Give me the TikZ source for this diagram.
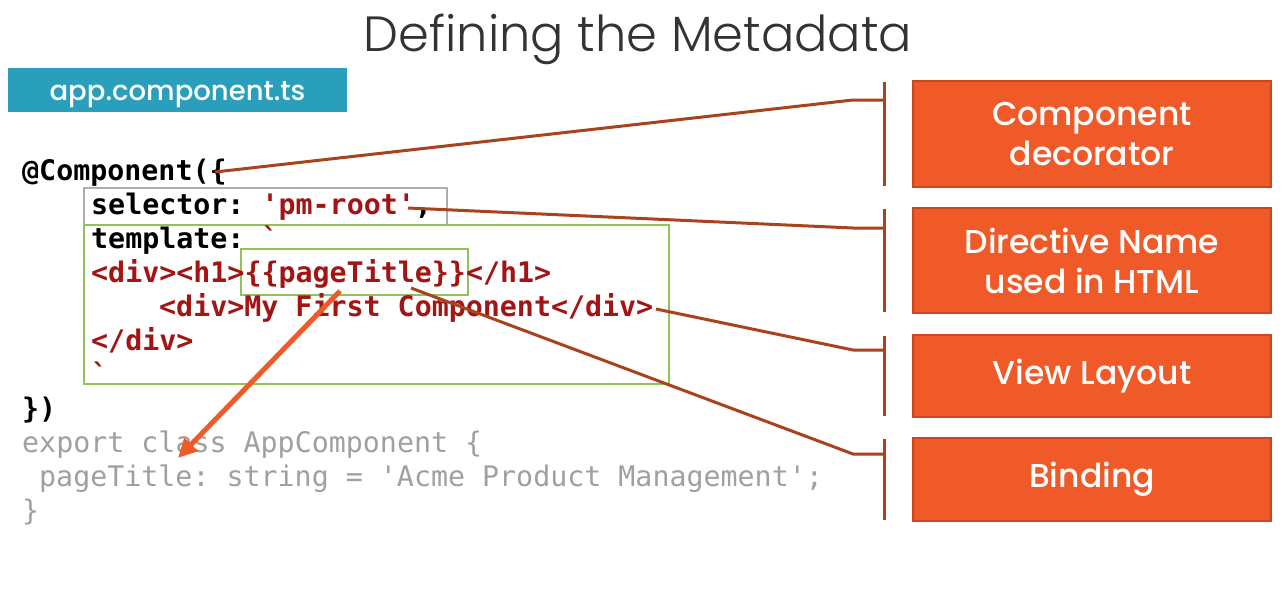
\documentclass[tikz,border=0pt]{standalone}
\usepackage{fontspec}
\usetikzlibrary{arrows.meta}
\setmainfont{Poppins}
\newfontfamily\codefont{DejaVu Sans Mono}
\newfontfamily\titlefont{Poppins Light}
\newfontfamily\labelfont{Poppins Medium}
\definecolor{teal}{HTML}{2A9FBC}
\definecolor{orangebox}{HTML}{F05A28}
\definecolor{orangeedge}{HTML}{C9471F}
\definecolor{brownline}{HTML}{A8431E}
\definecolor{codered}{HTML}{A31515}
\definecolor{codegray}{HTML}{A0A0A0}
\definecolor{framegray}{HTML}{ADADAD}
\definecolor{framegreen}{HTML}{92C25C}
\tikzset{
  codeline/.style={anchor=base west, inner sep=0pt, font=\codefont\frenchspacing\fontsize{28.3}{34}\selectfont},
  boldcode/.style={codeline, font=\codefont\frenchspacing\bfseries\fontsize{28.3}{34}\selectfont},
  labelbox/.style={draw=orangeedge, line width=2pt, fill=orangebox, text=white, align=center,
    minimum width=358pt, inner sep=0pt, font=\labelfont\fontsize{33}{40}\selectfont},
  bar/.style={fill=brownline, draw=none, minimum width=3pt, inner sep=0pt},
  connector/.style={draw=brownline, line width=3pt},
  frame/.style={line width=2.8pt}
}
\newcommand{\rd}[1]{\textcolor{codered}{#1}}
\begin{document}
\begin{tikzpicture}[x=1pt,y=-1pt]
\useasboundingbox (0,0) rectangle (1285,597);
\fill[white] (0,0) rectangle (1285,597);

% title
\node[anchor=base, inner sep=0pt, text=black!80, font=\titlefont\fontsize{49.5}{50}\selectfont] (title) at (638,51) {Defining the Metadata};

% file tab
\node[fill=teal, minimum width=339pt, minimum height=44pt, inner sep=0pt] (file) at (177.5,90) {};
\node[anchor=base, inner sep=0pt, text=white, font=\labelfont\fontsize{27.5}{30}\selectfont] (filename) at (177.5,100) {app.component.ts};

% highlight frames
\draw[frame, draw=framegray] (84,188) rectangle (447,225);
\draw[frame, draw=framegreen] (84,225) rectangle (669,384);
\draw[frame, draw=framegreen] (241,249) rectangle (468,295);

% code
\node[boldcode] (l1) at (22,180) {@Component(\{};
\node[boldcode] (l2) at (91,214) {selector: \rd{'pm-root'},};
\node[boldcode] (l3) at (91,248) {template: \rd{`}};
\node[boldcode, text=codered] (l4) at (91,282) {<div><h1>\{\{pageTitle\}\}</h1>};
\node[boldcode, text=codered] (l5) at (159,316) {<div>My First Component</div>};
\node[boldcode, text=codered] (l6) at (91,350) {</div>};
\node[boldcode, text=codered] (l7) at (91,384) {`};
\node[boldcode] (l8) at (22,418) {\})};
\node[codeline, text=codegray] (l9) at (22,452) {export class AppComponent \{};
\node[codeline, text=codegray] (l10) at (39,486) {pageTitle: string = 'Acme Product Management';};
\node[codeline, text=codegray] (l11) at (22,520) {\}};

% label boxes
\node[labelbox, minimum height=106pt] (b1) at (1092,134) {Component\\decorator};
\node[labelbox, minimum height=105pt] (b2) at (1092,260.5) {Directive Name\\used in HTML};
\node[labelbox, minimum height=82pt] (b3) at (1092,376) {View Layout};
\node[labelbox, minimum height=83pt] (b4) at (1092,479.5) {Binding};

% brackets beside the boxes
\node[bar, minimum height=104pt] (r1) at (884,134) {};
\node[bar, minimum height=103pt] (r2) at (884,260.5) {};
\node[bar, minimum height=80pt] (r3) at (884,376) {};
\node[bar, minimum height=81pt] (r4) at (884,479.5) {};

% connectors from the code to the brackets
\coordinate (s1) at (215,172);
\coordinate (k1) at (853,100);
\coordinate (s2) at (408,208);
\coordinate (k2) at (853,228);
\coordinate (s3) at (656,309);
\coordinate (k3) at (853,350);
\coordinate (s4) at (411,288);
\coordinate (k4) at (853,454);
\draw[connector] (s1) -- (k1) -- (r1.center |- k1);
\draw[connector] (s2) -- (k2) -- (r2.center |- k2);
\draw[connector] (s3) -- (k3) -- (r3.center |- k3);
\draw[connector] (s4) -- (k4) -- (r4.center |- k4);

% binding arrow
\coordinate (a0) at (340,291);
\coordinate (a1) at (178,458);
\draw[draw=orangebox, line width=5pt, -{Triangle[length=19pt, width=18pt]}] (a0) -- (a1);
\end{tikzpicture}
\end{document}
